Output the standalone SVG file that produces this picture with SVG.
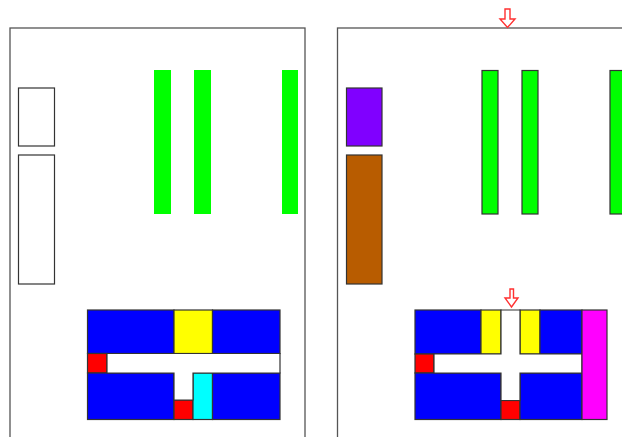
<svg xmlns="http://www.w3.org/2000/svg" width="622" height="437" viewBox="0 0 622 437">
<style>
.frame{fill:none;stroke:#555;stroke-width:1.3}
.box{stroke:#333;stroke-width:1.2}
.g0{fill:#00ff00}
.g1{fill:#00ff00;stroke:#333;stroke-width:1.2}
.b{fill:#0000ff;stroke:#333;stroke-width:1.2}
.y{fill:#ffff00;stroke:#333;stroke-width:1.2}
.r{fill:#ff0000;stroke:#333;stroke-width:1.2}
.c{fill:#00ffff;stroke:#333;stroke-width:1.2}
.w{fill:#ffffff;stroke:#333;stroke-width:1.2}
.m{fill:#ff00ff;stroke:#333;stroke-width:1.2}
.arrow{fill:#ffffff;stroke:#ff3030;stroke-width:1.4;stroke-linejoin:miter}
</style>
<rect width="622" height="437" fill="#ffffff"/>
<g id="left-panel">
  <rect class="frame" x="10" y="28" width="295" height="420"/>
  <rect class="box" fill="#ffffff" x="18.5" y="88" width="36" height="58"/>
  <rect class="box" fill="#ffffff" x="18.5" y="155" width="36" height="129"/>
  <rect class="g0" x="154" y="70" width="17" height="144"/>
  <rect class="g0" x="194" y="70" width="17" height="144"/>
  <rect class="g0" x="282" y="70" width="16" height="144"/>
  <g id="left-block">
    <rect class="b" x="87.5" y="310" width="86.5" height="43.5"/>
    <rect class="y" x="174" y="310" width="38.5" height="43.5"/>
    <rect class="b" x="212.5" y="310" width="67.5" height="43.5"/>
    <rect class="r" x="87.5" y="353.5" width="19.5" height="19.5"/>
    <rect class="b" x="87.5" y="373" width="86.5" height="46.5"/>
    <rect class="r" x="174" y="400" width="19" height="19.5"/>
    <rect class="c" x="193" y="373" width="19.5" height="46.5"/>
    <rect class="b" x="212.5" y="373" width="67.5" height="46.5"/>
    <polygon class="w" points="107,353.5 280,353.5 280,373 193,373 193,400 174,400 174,373 107,373"/>
  </g>
</g>
<g id="right-panel">
  <rect class="frame" x="337.5" y="28" width="300" height="420"/>
  <rect class="box" fill="#8000ff" x="346.5" y="88" width="35.5" height="58"/>
  <rect class="box" fill="#b85c00" x="346.5" y="155" width="35.5" height="129"/>
  <rect class="g1" x="482" y="70.5" width="16" height="143.5"/>
  <rect class="g1" x="522" y="70.5" width="16" height="143.5"/>
  <rect class="g1" x="610" y="70.5" width="16" height="143.5"/>
  <g id="right-block">
    <rect class="b" x="415" y="310" width="66" height="44"/>
    <rect class="y" x="481" y="310" width="20" height="44"/>
    <rect class="y" x="520" y="310" width="20" height="44"/>
    <rect class="b" x="540" y="310" width="42" height="44"/>
    <rect class="r" x="415" y="354" width="19" height="19"/>
    <rect class="b" x="415" y="373" width="86" height="46.5"/>
    <rect class="r" x="501" y="400.5" width="19" height="19"/>
    <rect class="b" x="520" y="373" width="62" height="46.5"/>
    <polygon class="w" points="501,310 520,310 520,354 582,354 582,373 520,373 520,400.5 501,400.5 501,373 434,373 434,354 501,354"/>
    <rect class="m" x="582" y="310" width="25" height="109.5"/>
  </g>
</g>
<g id="connectors">
  <polygon class="arrow" points="505,9 510,9 510,19 515,19 507.5,27.5 500,19 505,19"/>
  <polygon class="arrow" points="510,289 513.5,289 513.5,298 518,298 511.5,307 505,298 510,298"/>
</g>
</svg>
